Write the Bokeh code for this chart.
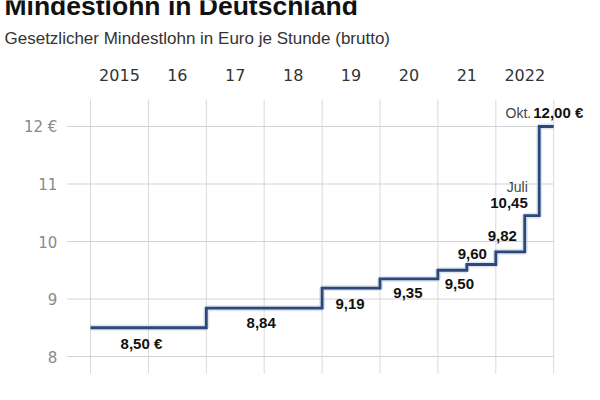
from bokeh.plotting import figure
from bokeh.models import Range1d, Label, ColumnDataSource
from bokeh.embed import file_html
from bokeh.resources import INLINE
from bokeh.core.properties import value

# ---------------- data ----------------
change_dates = [2015.0, 2017.0, 2019.0, 2020.0, 2021.0, 2021.5, 2022.0, 2022.5, 2022.75]
wage_eur = [8.50, 8.84, 9.19, 9.35, 9.50, 9.60, 9.82, 10.45, 12.00]
wage_labels = ["8,50 €", "8,84", "9,19", "9,35", "9,50", "9,60", "9,82", "10,45", "12,00 €"]
month_labels = ["", "", "", "", "", "", "", "Juli", "Okt."]
period_end = 2023.0

years = [2015, 2016, 2017, 2018, 2019, 2020, 2021, 2022]
year_labels = ["2015", "16", "17", "18", "19", "20", "21", "2022"]
year_edges = [2015, 2016, 2017, 2018, 2019, 2020, 2021, 2022, 2023]

y_ticks = [8, 9, 10, 11, 12]
y_tick_labels = ["8", "9", "10", "11", "12 €"]

title_text = "Mindestlohn in Deutschland"
subtitle_text = "Gesetzlicher Mindestlohn in Euro je Stunde (brutto)"

# ---------------- layout / style ----------------
W, H = 584, 384
PX_PER_YEAR = 57.9
PX_PER_EUR = 57.5
X0_CANVAS = 90.0      # canvas x of 2015
Y8_CANVAS = 356.0     # canvas y of 8 €
x_start = 2015 - X0_CANVAS / PX_PER_YEAR
y_top = 8 + Y8_CANVAS / PX_PER_EUR
y_bottom = y_top - H / PX_PER_EUR

grid_top = 12.47
grid_bottom = 7.70
hgrid_left = 2014.6

label_dx = [-7, -3, -1, -1, 7, -9, -8, 3, -6]
label_dy = [16, 15, 16, 14, 14, -11, -16, -13, -14]
label_align = ["center"] * 7 + ["right", "left"]
label_at_mid = [True] * 7 + [False, False]
month_dx = [0] * 7 + [3, -8]
month_dy = [0] * 7 + [-29, -14]

LINE_COLOR = "#2d4878"

p = figure(width=W, height=H, output_backend="svg", toolbar_location=None,
           x_range=Range1d(x_start, x_start + W / PX_PER_YEAR),
           y_range=Range1d(y_bottom, y_top),
           x_axis_location=None, y_axis_location=None, min_border=0)
p.outline_line_color = None
p.xgrid.visible = False
p.ygrid.visible = False
p.background_fill_color = "white"
p.border_fill_color = "white"

# vertical gridlines (year boundaries)
p.segment(x0=year_edges, x1=year_edges, y0=grid_bottom, y1=grid_top,
          line_color="#d9d9d9", line_width=1)
# horizontal gridlines
p.segment(x0=hgrid_left, x1=period_end, y0=y_ticks, y1=y_ticks,
          line_color="#d2d2d2", line_width=1)

# y tick labels
p.text(x=[hgrid_left] * len(y_ticks), y=y_ticks, text=y_tick_labels,
       x_offset=-10, text_align="right", text_baseline="middle",
       text_font=value("DejaVu Sans"), text_font_size="15px", text_color="#8a8a8a")

# year labels centred in each column
p.text(x=[yr + 0.5 for yr in years], y=[grid_top] * len(years), text=year_labels,
       y_offset=-24, text_align="center", text_baseline="middle",
       text_font=value("DejaVu Sans"), text_font_size="16px", text_color="#333333")

# step line
step_x = change_dates + [period_end]
step_y = wage_eur + [wage_eur[-1]]
p.step(x=step_x, y=step_y, mode="after", line_color="#b9cbe3", line_width=6, line_alpha=0.5)
p.step(x=step_x, y=step_y, mode="after", line_color=LINE_COLOR, line_width=2.8,
       line_join="miter")

# value labels
seg_end = change_dates[1:] + [period_end]
lx = [(a + b) / 2 if mid else a for a, b, mid in zip(change_dates, seg_end, label_at_mid)]
src = ColumnDataSource(dict(x=lx, y=wage_eur, text=wage_labels, dx=label_dx, dy=label_dy,
                            align=label_align))
p.text(x="x", y="y", text="text", x_offset="dx", y_offset="dy", text_align="align",
       text_baseline="middle", source=src,
       text_font=value("Liberation Sans"), text_font_style="bold",
       text_font_size="15px", text_color="#111111")

# month annotations
m_idx = [i for i, m in enumerate(month_labels) if m]
p.text(x=[change_dates[i] for i in m_idx], y=[wage_eur[i] for i in m_idx],
       text=[month_labels[i] for i in m_idx],
       x_offset=[month_dx[i] for i in m_idx], y_offset=[month_dy[i] for i in m_idx],
       text_align="right", text_baseline="middle",
       text_font=value("Liberation Sans"), text_font_size="14px", text_color="#444444")

# title & subtitle
p.add_layout(Label(x=4, y=H - 5.5, x_units="screen", y_units="screen", text=title_text,
                   text_font="Liberation Sans", text_font_style="bold",
                   text_font_size="26.5px", text_color="#111111",
                   text_baseline="alphabetic"))
p.add_layout(Label(x=4, y=H - 38, x_units="screen", y_units="screen", text=subtitle_text,
                   text_font="Liberation Sans", text_font_size="17px",
                   text_color="#333333", text_baseline="alphabetic"))

open("out.html", "w").write(file_html(p, INLINE))
